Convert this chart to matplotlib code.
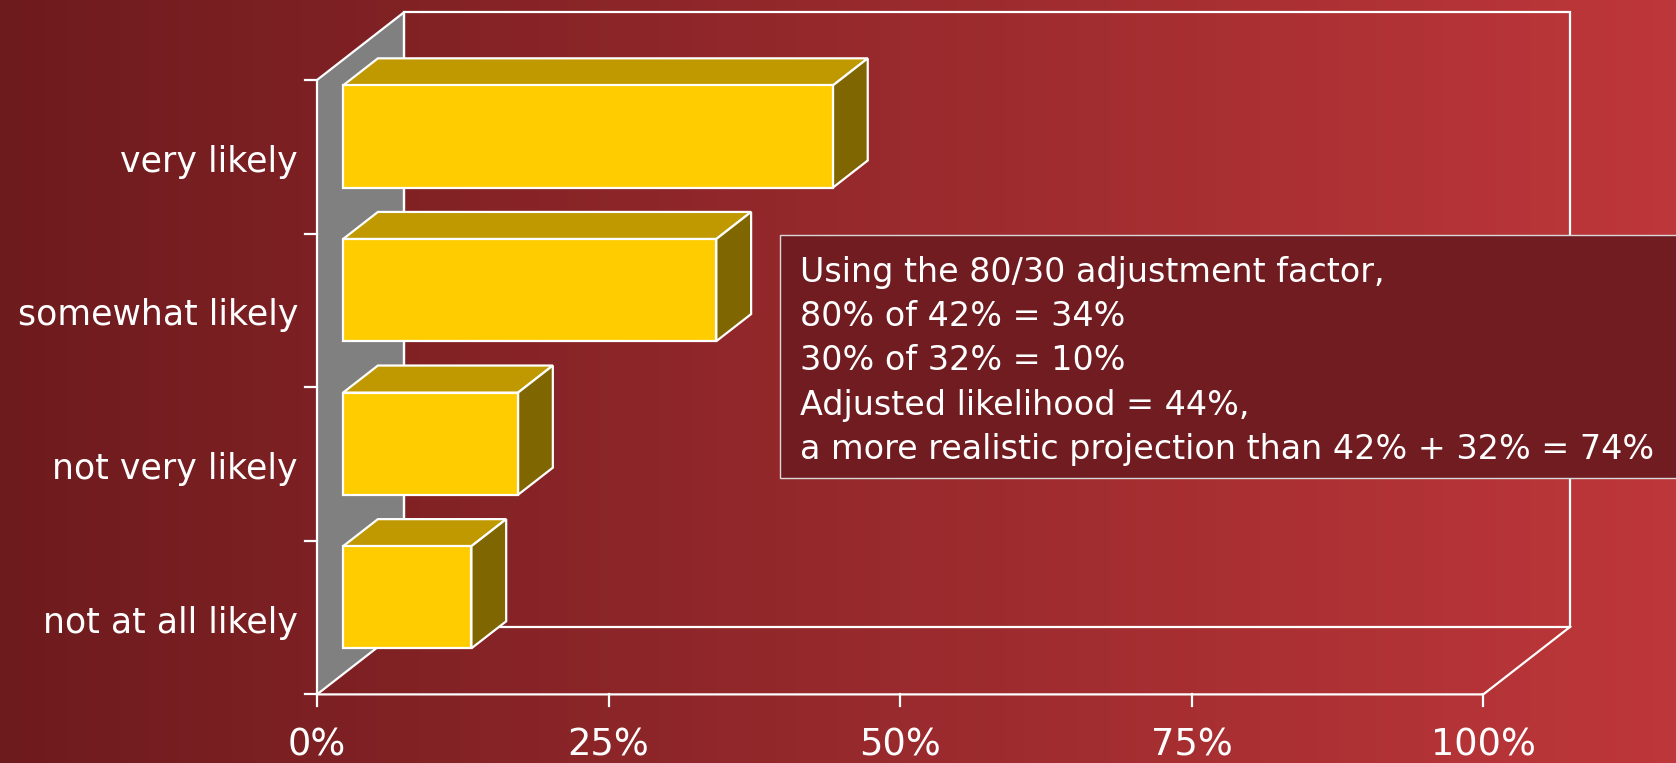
import numpy as np
import matplotlib
matplotlib.use("Agg")
import matplotlib.pyplot as plt
from matplotlib.patches import Polygon, Rectangle
from matplotlib.colors import to_rgb

# ---------------- data ----------------
categories = ["not at all likely", "not very likely", "somewhat likely", "very likely"]
values = [11, 15, 32, 42]
xticks = [0, 25, 50, 75, 100]
xtick_labels = ["0%", "25%", "50%", "75%", "100%"]
note_lines = [
    "Using the 80/30 adjustment factor,",
    "80% of 42% = 34%",
    "30% of 32% = 10%",
    "Adjusted likelihood = 44%,",
    "a more realistic projection than 42% + 32% = 74%",
]

# ---------------- styling / geometry ----------------
W, H = 1676, 763
X0_PX, PX_PER_PCT = 317.0, 11.663
FLOOR_PX, PX_PER_CAT = 694.4, 153.6
DX = 87.0 / PX_PER_PCT       # depth offset in % units
DY = 67.7 / PX_PER_CAT       # depth offset in category units
BAR_H = 0.665
D0, D1 = 0.3, 0.7
WHITE = "white"
LW = 1.6

plt.rcParams['font.family'] = ['DejaVu Sans']

fig = plt.figure(figsize=(W / 100, H / 100), dpi=100)
ax = fig.add_axes([0, 0, 1, 1])
ax.set_xlim(-X0_PX / PX_PER_PCT, (W - X0_PX) / PX_PER_PCT)
ax.set_ylim((FLOOR_PX - H) / PX_PER_CAT, FLOOR_PX / PX_PER_CAT)
ax.axis("off")

# background gradient
c_left = np.array(to_rgb("#6E1B1E"))
c_right = np.array(to_rgb("#BE373A"))
t = np.linspace(0, 1, 512)[None, :, None]
grad = c_left * (1 - t) + c_right * t
xl, yl = ax.get_xlim(), ax.get_ylim()
ax.imshow(grad, extent=[xl[0], xl[1], yl[0], yl[1]], aspect="auto", zorder=0)


def P(v, c, d):
    return (v + d * DX, c + d * DY)


ncat = len(categories)
vmax = xticks[-1]

# gray side wall
ax.add_patch(Polygon([P(0, 0, 0), P(0, ncat, 0), P(0, ncat, 1), P(0, 0, 1)],
                     closed=True, facecolor="#808080", edgecolor=WHITE, lw=LW, zorder=1))
# back wall outline
bw = [P(0, 0, 1), P(vmax, 0, 1), P(vmax, ncat, 1), P(0, ncat, 1), P(0, 0, 1)]
ax.plot([p[0] for p in bw], [p[1] for p in bw], color=WHITE, lw=LW, zorder=1,
        solid_joinstyle="miter")
# floor front edge + right diagonal
fl = [P(0, 0, 0), P(vmax, 0, 0), P(vmax, 0, 1)]
ax.plot([p[0] for p in fl], [p[1] for p in fl], color=WHITE, lw=LW, zorder=1)

# ticks
tick_len_x = 12.0 / PX_PER_PCT
tick_len_y = 12.0 / PX_PER_CAT
for k in range(ncat + 1):
    ax.plot([-tick_len_x, 0], [k, k], color=WHITE, lw=LW, zorder=1)
for v in xticks:
    ax.plot([v, v], [0, -tick_len_y], color=WHITE, lw=LW, zorder=1)

# bars
for i, (cat, v) in enumerate(zip(categories, values)):
    c = i + 0.5
    lo, hi = c - BAR_H / 2, c + BAR_H / 2
    top = [P(0, hi, D0), P(v, hi, D0), P(v, hi, D1), P(0, hi, D1)]
    side = [P(v, lo, D0), P(v, hi, D0), P(v, hi, D1), P(v, lo, D1)]
    front = [P(0, lo, D0), P(v, lo, D0), P(v, hi, D0), P(0, hi, D0)]
    ax.add_patch(Polygon(top, closed=True, facecolor="#C09900", edgecolor=WHITE, lw=LW, zorder=3))
    ax.add_patch(Polygon(side, closed=True, facecolor="#806600", edgecolor=WHITE, lw=LW, zorder=3))
    ax.add_patch(Polygon(front, closed=True, facecolor="#FFCC00", edgecolor=WHITE, lw=LW, zorder=4))
    # category label
    ax.text((298 - X0_PX) / PX_PER_PCT, c - 15.0 / PX_PER_CAT, cat, ha="right", va="baseline",
            color=WHITE, fontsize=25, zorder=6)

# x tick labels
for v, lab in zip(xticks, xtick_labels):
    ax.text(v, (FLOOR_PX - 755) / PX_PER_CAT, lab, ha="center", va="baseline",
            color=WHITE, fontsize=26.5, zorder=6)

# annotation box
bx0 = (780 - X0_PX) / PX_PER_PCT
bx1 = (1678 - X0_PX) / PX_PER_PCT
by_top = (FLOOR_PX - 235) / PX_PER_CAT
by_bot = (FLOOR_PX - 477.7) / PX_PER_CAT
ax.add_patch(Rectangle((bx0, by_bot), bx1 - bx0, by_top - by_bot, facecolor="#701C20",
                       edgecolor="#D8D8D8", lw=1.0, zorder=5))
for j, line in enumerate(note_lines):
    base_px = 281.7 + j * 44.4
    ax.text((800 - X0_PX) / PX_PER_PCT, (FLOOR_PX - base_px) / PX_PER_CAT, line,
            ha="left", va="baseline", color=WHITE, fontsize=24, zorder=6)

fig.savefig("out.png", dpi=100)
